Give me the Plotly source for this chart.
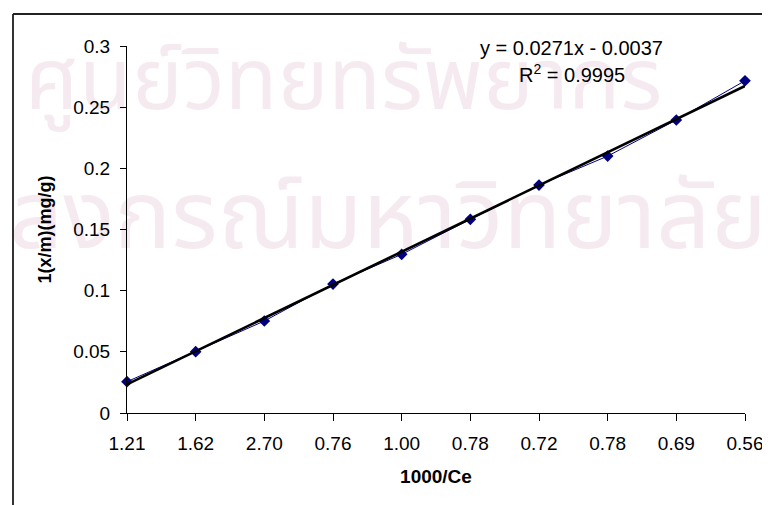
import plotly.graph_objects as go

# ---- data ----
categories = ["1.21", "1.62", "2.70", "0.76", "1.00", "0.78", "0.72", "0.78", "0.69", "0.56"]
positions = [1, 2, 3, 4, 5, 6, 7, 8, 9, 10]
values = [0.0256, 0.0501, 0.0752, 0.1054, 0.1297, 0.1583, 0.1863, 0.2100, 0.2395, 0.2716]
trend_slope = 0.0271
trend_intercept = -0.0037
y_ticks = [0, 0.05, 0.1, 0.15, 0.2, 0.25, 0.3]
y_tick_text = ["0", "0.05", "0.1", "0.15", "0.2", "0.25", "0.3"]
watermark_lines = ["ศูนย์วิทยทรัพยากร", "จุฬาลงกรณ์มหาวิทยาลัย"]

FONT = "Arial, Liberation Sans, sans-serif"
THAI = "Noto Sans Thai, Loma, Garuda, sans-serif"
WM_COLOR = "#f6eaf1"

W, H = 762, 497
PLOT_X = (119 / W, 737 / W)
PLOT_Y = ((H - 405) / H, (H - 38) / H)

trend_x = [positions[0], positions[-1]]
trend_y = [trend_slope * x + trend_intercept for x in trend_x]

fig = go.Figure()

# background watermark of the scanned page, on a hidden full-page subplot (drawn first = behind)
fig.add_trace(go.Scatter(
    x=[17], y=[79], mode="text", text=[watermark_lines[0]],
    textposition="middle right",
    textfont=dict(size=86, color=WM_COLOR, family=THAI),
    hoverinfo="skip", showlegend=False, xaxis="x", yaxis="y",
))
fig.add_trace(go.Scatter(
    x=[759], y=[216], mode="text", text=[watermark_lines[1]],
    textposition="middle left",
    textfont=dict(size=95, color=WM_COLOR, family=THAI),
    hoverinfo="skip", showlegend=False, xaxis="x", yaxis="y",
))

# chart
fig.add_trace(go.Scatter(
    x=positions, y=values, mode="lines+markers",
    line=dict(color="#000080", width=1),
    marker=dict(symbol="diamond", size=9, color="#000080"),
    cliponaxis=False, showlegend=False, xaxis="x2", yaxis="y2",
))
fig.add_trace(go.Scatter(
    x=trend_x, y=trend_y, mode="lines",
    line=dict(color="#000000", width=2.6),
    cliponaxis=False, showlegend=False, xaxis="x2", yaxis="y2",
))

fig.add_annotation(xref="x2 domain", yref="y2 domain", x=0.72, y=0.995,
                   text="y = 0.0271x - 0.0037", showarrow=False,
                   font=dict(size=20, color="black", family=FONT), xanchor="center", yanchor="middle")
fig.add_annotation(xref="x2 domain", yref="y2 domain", x=0.72, y=0.925,
                   text="R<sup>2</sup> = 0.9995", showarrow=False,
                   font=dict(size=20, color="black", family=FONT), xanchor="center", yanchor="middle")

# outer chart border (left and top lines)
fig.add_shape(type="line", xref="paper", yref="paper", x0=5 / W, x1=5 / W, y0=(H - 6) / H, y1=-0.03,
              line=dict(color="#333333", width=2))
fig.add_shape(type="line", xref="paper", yref="paper", x0=5 / W, x1=1.02, y0=(H - 6) / H, y1=(H - 6) / H,
              line=dict(color="#222222", width=2))

fig.update_layout(
    width=W, height=H,
    margin=dict(l=0, r=0, t=0, b=0, autoexpand=False),
    paper_bgcolor="white", plot_bgcolor="rgba(0,0,0,0)",
    showlegend=False,
    xaxis=dict(domain=[0, 1], range=[0, W], visible=False, fixedrange=True, automargin=False),
    yaxis=dict(domain=[0, 1], range=[H, 0], visible=False, fixedrange=True, automargin=False),
    xaxis2=dict(
        domain=list(PLOT_X), anchor="y2", automargin=False,
        range=[1, 10], tickmode="array", tickvals=positions, ticktext=categories,
        showgrid=False, zeroline=False, showline=True, linecolor="black", linewidth=1,
        ticks="outside", ticklen=7, tickcolor="black", ticklabelstandoff=6,
        tickfont=dict(size=19, color="black", family=FONT),
        title=dict(text="<b>1000/Ce</b>", font=dict(size=19, color="black", family=FONT), standoff=16),
    ),
    yaxis2=dict(
        domain=list(PLOT_Y), anchor="x2", automargin=False,
        range=[0, 0.3], tickmode="array", tickvals=y_ticks, ticktext=y_tick_text,
        showgrid=False, zeroline=False, showline=True, linecolor="black", linewidth=1,
        ticks="outside", ticklen=6, tickcolor="black", ticklabelstandoff=6,
        tickfont=dict(size=19, color="black", family=FONT),
        title=dict(text="<b>1(x/m)(mg/g)</b>", font=dict(size=18, color="black", family=FONT), standoff=16),
    ),
)

fig.write_html("out.html")
